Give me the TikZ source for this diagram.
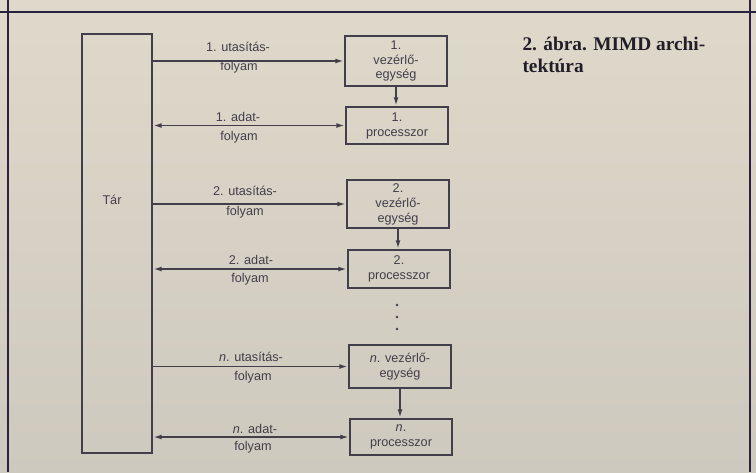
\documentclass[tikz,border=0pt]{standalone}
\usepackage{fontspec}
\setmainfont{Liberation Sans}
\newfontfamily\captionserif{Liberation Serif}
\usetikzlibrary{arrows.meta}

\definecolor{paper}{RGB}{223,217,203}
\definecolor{paperlow}{RGB}{206,201,190}
\definecolor{ink}{RGB}{66,62,74}
\definecolor{frameink}{RGB}{42,34,64}

\tikzset{every picture/.style={line width=0.75pt}}
\tikzset{
  unitbox/.style={draw=ink, line width=1.3pt, minimum width=76.5pt, align=center, text=ink, inner sep=0pt,
    font=\fontsize{9.5}{11.2}\selectfont},
  flowarrow/.style={draw=ink, line width=1.3pt, -{Latex[length=6.5pt,width=3.6pt]}},
  bothflow/.style={flowarrow, {Latex[length=6.5pt,width=3.6pt]}-{Latex[length=6.5pt,width=3.6pt]}},
  flowlabel/.style={text=ink, inner sep=0pt, font=\fontsize{9.5}{11.2}\selectfont},
  frameline/.style={draw=frameink, line width=2.2pt},
}

\begin{document}
\begin{tikzpicture}[x=0.75pt,y=0.75pt,yscale=-1,xscale=1]
%background of the scanned page
\shade [top color=paper, bottom color=paperlow] (0,0) rectangle (756,472);
\useasboundingbox (0,0) rectangle (756,472);

%frame
\draw [frameline] (0,12) -- (756,12) ;
\draw [frameline] (8,0) -- (8,472) ;
\draw [frameline] (750,0) -- (750,472) ;

% Text Node
\node [draw=ink, line width=1.3pt, minimum width=52.5pt, minimum height=314.25pt, inner sep=0pt] (tar) at (117,243.5) {};
\node [flowlabel] (tartext) at (112,200) {Tár};

% Text Node
\node [unitbox, minimum height=37.5pt] (vez1) at (396,61) {1.\\vezérlő-\\egység};
\node [unitbox, minimum height=27.75pt] (proc1) at (397,125.5) {1.\\processzor};
\node [unitbox, minimum height=36pt] (vez2) at (398,204) {2.\\vezérlő-\\egység};
\node [unitbox, minimum height=28.5pt] (proc2) at (399,269) {2.\\processzor};
\node [unitbox, minimum height=32.25pt] (vezn) at (400,366.5) {\textit{n}. vezérlő-\\egység};
\node [unitbox, minimum height=27pt] (procn) at (401,437) {\textit{n}.\\processzor};

%dots
\foreach \y in {305,317,329} \fill [ink] (397,\y) circle (1.3) ;

%Straight Lines
\draw [flowarrow] (tar.east |- vez1.west) -- (vez1.west) ;
\draw [bothflow] (tar.east |- proc1.west) -- (proc1.west) ;
\draw [flowarrow] (tar.east |- vez2.west) -- (vez2.west) ;
\draw [bothflow] (tar.east |- proc2.west) -- (proc2.west) ;
\draw [flowarrow] (tar.east |- vezn.west) -- (vezn.west) ;
\draw [bothflow] (tar.east |- procn.west) -- (procn.west) ;

\draw [flowarrow] (vez1.south) -- (vez1.south |- proc1.north) ;
\draw [flowarrow] (vez2.south) -- (vez2.south |- proc2.north) ;
\draw [flowarrow] (vezn.south) -- (vezn.south |- procn.north) ;

% Text Node
\node [flowlabel] (utas1) at (238,47) {1. utasítás-};
\node [flowlabel] (folyu1) at (239,67) {folyam};
\node [flowlabel] (adat1) at (238,117) {1. adat-};
\node [flowlabel] (folya1) at (239,137) {folyam};
\node [flowlabel] (utas2) at (245,191) {2. utasítás-};
\node [flowlabel] (folyu2) at (245,212) {folyam};
\node [flowlabel] (adat2) at (251,260) {2. adat-};
\node [flowlabel] (folya2) at (250,279) {folyam};
\node [flowlabel] (utasn) at (251,357) {\textit{n}. utasítás-};
\node [flowlabel] (folyun) at (253,377) {folyam};
\node [flowlabel] (adatn) at (255,429) {\textit{n}. adat-};
\node [flowlabel] (folyan) at (253,447) {folyam};

% Text Node
\node [anchor=north west, align=left, inner sep=0pt, text={rgb,255:red,34;green,30;blue,40},
  font=\captionserif\bfseries\fontsize{14.5}{16.5}\selectfont] (caption) at (522,37) {2. ábra. MIMD archi-\\tektúra};

\end{tikzpicture}
\end{document}
